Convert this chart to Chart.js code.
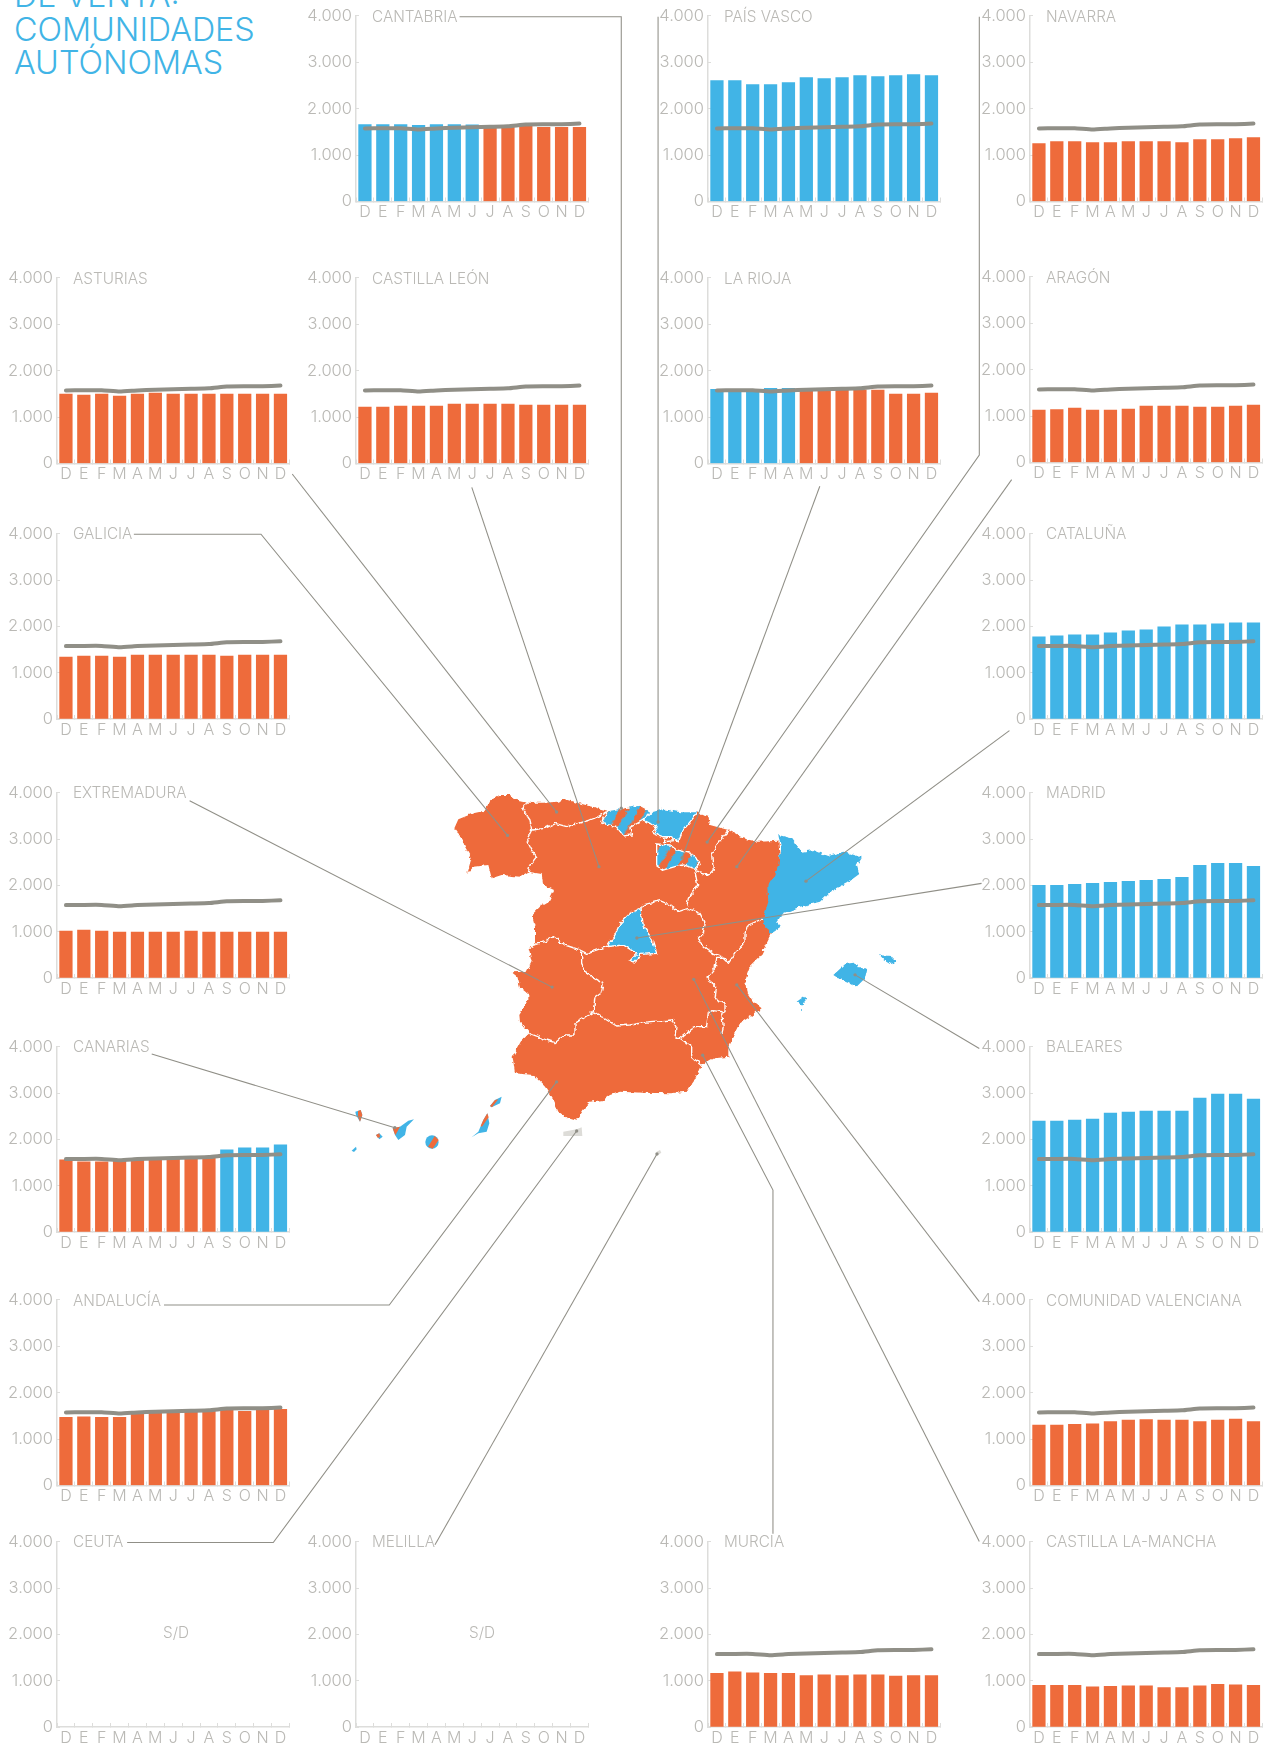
<!DOCTYPE html>
<html lang="es">
<head>
<meta charset="UTF-8">
<title>Comunidades autónomas</title>
<script src="https://cdn.jsdelivr.net/npm/chart.js"></script>
<style>
    body { margin: 0; background: #fff; width: 1276px; height: 1749px; position: relative; overflow: hidden; font-family: Inter, sans-serif; font-weight: 300; }
    canvas { position: absolute; }
    .titulo { position: absolute; left: 14px; top: -21px; font-size: 32.3px; line-height: 33.6px; color: #41b4e6; }
    .nombre { position: absolute; font-size: 15.3px; color: #bab9b5; white-space: nowrap; line-height: 18px; }
    #mapa { position: absolute; left: 0; top: 0; pointer-events: none; }
</style>
</head>
<body>

<div class="titulo">DE VENTA:<br>COMUNIDADES<br>AUTÓNOMAS</div>

<script>
const meses = ['D','E','F','M','A','M','J','J','A','S','O','N','D'];
const yTicks = [0, 1000, 2000, 3000, 4000];

// media nacional, the grey line repeated in every panel
const media = [1575, 1580, 1580, 1550, 1575, 1590, 1600, 1610, 1620, 1660, 1665, 1665, 1680];

const cantabria = [1660, 1660, 1660, 1640, 1660, 1660, 1650, 1600, 1600, 1640, 1600, 1600, 1600];
const paisVasco = [2607, 2607, 2520, 2520, 2564, 2671, 2650, 2671, 2714, 2693, 2714, 2736, 2714];
const navarra = [1250, 1293, 1293, 1271, 1271, 1293, 1293, 1293, 1271, 1336, 1336, 1357, 1379];
const asturias = [1494, 1473, 1494, 1451, 1494, 1516, 1494, 1494, 1494, 1494, 1494, 1494, 1494];
const castillaLeon = [1214, 1214, 1236, 1236, 1236, 1279, 1279, 1279, 1279, 1257, 1257, 1257, 1257];
const laRioja = [1600, 1600, 1600, 1620, 1620, 1570, 1580, 1590, 1590, 1580, 1494, 1494, 1516];
const aragon = [1128, 1142, 1171, 1128, 1128, 1149, 1214, 1214, 1214, 1193, 1193, 1214, 1236];
const galicia = [1336, 1358, 1358, 1336, 1379, 1379, 1379, 1379, 1379, 1358, 1379, 1379, 1379];
const cataluna = [1774, 1796, 1818, 1818, 1861, 1904, 1925, 1990, 2033, 2033, 2055, 2076, 2076];
const extremadura = [1013, 1034, 1013, 991, 991, 991, 991, 1013, 991, 991, 991, 991, 991];
const madrid = [2004, 2004, 2026, 2047, 2069, 2090, 2112, 2134, 2177, 2435, 2478, 2478, 2414];
const canarias = [1561, 1518, 1518, 1530, 1550, 1565, 1580, 1590, 1600, 1777, 1820, 1820, 1885];
const baleares = [2396, 2396, 2417, 2439, 2568, 2590, 2612, 2612, 2612, 2892, 2978, 2978, 2870];
const andalucia = [1470, 1480, 1470, 1470, 1540, 1560, 1580, 1590, 1600, 1640, 1600, 1640, 1640];
const comValenciana = [1300, 1300, 1320, 1330, 1380, 1410, 1420, 1410, 1410, 1380, 1410, 1430, 1380];
const murcia = [1160, 1190, 1170, 1160, 1160, 1110, 1130, 1110, 1130, 1130, 1100, 1110, 1110];
const castillaMancha = [900, 900, 900, 870, 880, 890, 890, 850, 850, 890, 920, 910, 900];

const AZUL = '#41b4e6', NARANJA = '#ee6b3b', GRIS = '#908f87', TEXTO = '#bab9b5', EJE = '#dddddb';

// columns and rows of the grid of small charts
const c1 = 57, c2 = 356, c3 = 708, c4 = 1030;
const panels = [
    ['CANTABRIA', cantabria, c2, 15.5], ['PAÍS VASCO', paisVasco, c3, 15.5], ['NAVARRA', navarra, c4, 15.5],
    ['ASTURIAS', asturias, c1, 277.5], ['CASTILLA LEÓN', castillaLeon, c2, 277.5], ['LA RIOJA', laRioja, c3, 277.5], ['ARAGÓN', aragon, c4, 276.5],
    ['GALICIA', galicia, c1, 533], ['CATALUÑA', cataluna, c4, 533],
    ['EXTREMADURA', extremadura, c1, 792], ['MADRID', madrid, c4, 792],
    ['CANARIAS', canarias, c1, 1046], ['BALEARES', baleares, c4, 1046],
    ['ANDALUCÍA', andalucia, c1, 1299.5], ['COMUNIDAD VALENCIANA', comValenciana, c4, 1299.5],
    ['CEUTA', null, c1, 1541, 120], ['MELILLA', null, c2, 1541, 127], ['MURCIA', murcia, c3, 1541], ['CASTILLA LA-MANCHA', castillaMancha, c4, 1541]
];

function texto(t, x, y) {
    const d = document.createElement('div');
    d.className = 'nombre';
    d.textContent = t;
    d.style.left = x + 'px';
    d.style.top = y + 'px';
    document.body.appendChild(d);
}

panels.forEach(([nombre, valores, left, top, sd]) => {
    const frac = top - Math.floor(top);
    const c = document.createElement('canvas');
    c.width = 290;
    c.height = 234;
    c.style.left = (left - 50) + 'px';
    c.style.top = (Math.floor(top) - 16) + 'px';
    document.body.appendChild(c);

    const datasets = [];
    if (valores) {
        datasets.push({
            type: 'line', data: media, borderColor: GRIS, borderWidth: 4, pointRadius: 0,
            borderCapStyle: 'round', tension: 0.15, order: 0
        });
        datasets.push({
            type: 'bar', data: valores, barThickness: 12.6, order: 1,
            backgroundColor: valores.map((v, i) => v > media[i] ? AZUL : NARANJA)
        });
    }

    new Chart(c, {
        type: 'bar',
        data: { labels: meses, datasets },
        options: {
            responsive: false,
            animation: false,
            layout: { padding: { top: 16 + frac, right: 7.6, left: 0, bottom: 0 } },
            plugins: { legend: { display: false }, tooltip: { enabled: false } },
            scales: {
                x: {
                    afterFit: s => { s.height = 32 - frac; },
                    border: { color: EJE, width: 1.5 },
                    grid: { drawOnChartArea: false, tickLength: -4, color: EJE },
                    ticks: { color: TEXTO, autoSkip: false, maxRotation: 0, padding: 5.5, font: { family: 'Inter', size: 16, weight: 300 } }
                },
                y: {
                    min: 0, max: 4000,
                    afterFit: s => { s.width = 50; },
                    afterBuildTicks: s => { s.ticks = yTicks.map(value => ({ value })); },
                    border: { color: EJE, width: 1.5 },
                    grid: { drawOnChartArea: false, tickLength: -3, color: EJE },
                    ticks: {
                        color: TEXTO, padding: 7, font: { family: 'Inter', size: 16.5, weight: 300 },
                        callback: v => v ? (v / 1000) + '.000' : '0'
                    }
                }
            }
        }
    });

    texto(nombre, left + 16, top - 8);
    if (sd) texto('S/D', left + sd - 14, top + 83);
});
</script>

<svg id="mapa" width="1276" height="1749" viewBox="0 0 1276 1749">
    <defs>
        <pattern id="rayasCantabria" width="48" height="48" patternUnits="userSpaceOnUse" patternTransform="rotate(30)">
            <rect width="48" height="48" fill="#41b4e6"/>
            <rect x="25" width="21" height="48" fill="#ee6b3b"/>
        </pattern>
        <pattern id="rayasRioja" width="48" height="48" patternUnits="userSpaceOnUse" patternTransform="rotate(30)">
            <rect width="48" height="48" fill="#41b4e6"/>
            <rect x="20" width="20" height="48" fill="#ee6b3b"/>
        </pattern>
        <filter id="costa" filterUnits="userSpaceOnUse" x="0" y="0" width="1400" height="1200">
            <feTurbulence type="fractalNoise" baseFrequency=".07" numOctaves="2" seed="4" result="n"/>
            <feDisplacementMap in="SourceGraphic" in2="n" scale="14" xChannelSelector="R" yChannelSelector="G"/>
        </filter>
    </defs>

    <!-- mapa: coordinates of a 3x crop starting at 430,770 -->
    <g transform="translate(430 770) scale(.33333)">
      <g filter="url(#costa)">
        <polygon fill="#ee6b3b" points="73,175 85,148 130,130 165,122 178,95 205,75 240,75 262,92 290,98 340,98 385,95 405,88 440,98 480,108 533,122 628,105 640,118 665,125 700,115 750,125 805,125 815,135 835,140 840,165 895,180 940,205 985,215 1045,212 1052,300 1025,490 1015,510 990,560 960,590 945,630 950,665 970,695 995,715 960,740 930,760 910,800 895,830 895,860 850,865 815,885 795,930 770,965 720,970 640,968 570,965 540,975 520,990 480,995 460,1020 440,1052 415,1045 385,1025 370,990 345,950 310,915 255,910 248,860 272,815 298,790 270,755 268,735 295,690 295,670 270,650 262,620 245,607 290,605 305,575 296,535 315,525 315,470 305,435 330,410 355,395 372,360 340,345 335,312 295,305 270,320 215,315 185,325 175,285 130,290 112,312 125,265 105,230 95,205"/>
        <polygon fill="#41b4e6" points="1045,195 1085,205 1115,245 1150,240 1195,258 1240,245 1295,262 1280,285 1288,312 1250,340 1200,365 1170,395 1110,410 1060,430 1040,455 1055,470 1025,490 1003,470 1000,445 1015,395 1012,350 1030,320 1045,285 1052,230"/>
        <polygon fill="#41b4e6" stroke="#fff" stroke-width="4" points="633,415 640,470 665,505 680,550 632,553 610,576 600,572 620,551 580,525 530,530 555,495 570,460 600,430"/>
        <polygon fill="url(#rayasCantabria)" stroke="#fff" stroke-width="4" points="533,122 628,105 665,125 640,150 600,172 605,195 580,198 560,170 515,160"/>
        <polygon fill="#41b4e6" stroke="#fff" stroke-width="4" points="665,125 700,115 750,125 805,125 760,180 745,215 720,200 695,200 670,190 680,175 660,160 640,150"/>
        <polygon fill="#ee6b3b" stroke="#fff" stroke-width="4" points="700,205 725,200 730,212 705,215"/>
        <polygon fill="url(#rayasRioja)" stroke="#fff" stroke-width="4" points="680,222 720,225 740,240 780,250 812,280 795,295 760,285 735,290 700,300 680,285"/>
        <g fill="none" stroke="#fff" stroke-width="4" stroke-linejoin="round">
            <polyline points="290,98 278,118 300,150 305,180 290,210 305,240 320,260 300,285 295,305"/>
            <polyline points="305,180 345,175 375,160 410,170 445,160 480,150 505,140 530,125"/>
            <polyline points="812,280 795,305 835,315 850,300 845,250 860,225 895,180"/>
            <polyline points="795,305 803,345 775,385 770,410"/>
            <polyline points="633,415 640,405 690,392 720,405 745,425 775,415 810,430 825,460 820,490 803,510 830,535 850,550 875,560 890,575"/>
            <polyline points="1000,445 955,465 945,490 945,515 915,550 895,580 890,565 860,565 855,595 830,625 860,650 855,685 885,700 885,725 875,730 880,770 875,790"/>
            <polyline points="875,725 845,722 835,730 830,770 795,770 750,805 785,830 785,860 815,885"/>
            <polyline points="490,725 530,750 560,768 600,765 660,755 725,750 738,770 735,805 750,805"/>
            <polyline points="298,790 350,810 375,818 405,795 435,795 435,760 490,725"/>
            <polyline points="455,545 455,580 470,610 520,640 515,665 495,680 490,725"/>
            <polyline points="310,525 345,515 370,500 405,525 450,540 470,550 530,530"/>
        </g>
        <g fill="#41b4e6">
            <polygon points="1210,615 1250,578 1275,575 1285,595 1312,595 1305,625 1280,650 1250,635 1225,625"/>
            <polygon points="1347,556 1385,558 1398,575 1380,582 1360,570"/>
            <polygon points="1100,695 1125,677 1132,685 1115,705"/>
            <circle cx="1116" cy="723" r="3"/>
        </g>
      </g>
        <polygon fill="#dddcd8" points="400,1085 440,1078 455,1072 457,1098 400,1098"/>
        <polygon fill="#dddcd8" points="680,1145 690,1140 694,1148 684,1155"/>
    </g>

    <!-- canarias: 3x crop starting at 330,1080 -->
    <g transform="translate(330 1080) scale(.33333)">
        <polygon fill="#41b4e6" points="76,95 92,90 97,105 90,125 78,105"/>
        <polygon fill="#ee6b3b" points="84,93 92,90 97,105 90,125 84,110"/>
        <polygon fill="#41b4e6" points="65,212 78,200 80,208 72,216"/>
        <polygon fill="#41b4e6" points="138,165 148,160 158,170 148,178"/>
        <polygon fill="#ee6b3b" points="138,165 148,160 150,172 143,173"/>
        <polygon fill="#41b4e6" points="188,145 210,140 235,122 252,118 230,140 225,165 205,180 195,165"/>
        <polygon fill="#ee6b3b" points="188,145 210,140 196,166"/>
        <circle cx="306" cy="186" r="20" fill="#41b4e6"/>
        <polygon fill="#ee6b3b" points="314,168 326,180 308,206 294,200"/>
        <polygon fill="#41b4e6" points="425,172 445,155 460,120 472,100 478,130 470,155 445,160"/>
        <polygon fill="#ee6b3b" points="460,120 472,100 476,112 456,140 452,138"/>
        <polygon fill="#41b4e6" points="480,78 495,60 515,50 510,70 485,82"/>
        <polygon fill="#ee6b3b" points="480,78 495,60 505,58 486,82"/>
    </g>

    <!-- lineas guia -->
    <g transform="scale(1.11538)" fill="none" stroke="#908f87" stroke-width=".95">
        <polyline points="412,15 557,15 557,724.6"/>
        <polyline points="590,15 590,737"/>
        <polyline points="878,15 878,408 634,755"/>
        <polyline points="735,436 611.6,769"/>
        <polyline points="907,430 660.6,777"/>
        <polyline points="905,655 722.6,790"/>
        <polyline points="880,792 571,841"/>
        <polyline points="878,940 766.6,874"/>
        <polyline points="878,1167 660.6,883"/>
        <polyline points="878,1382 622,878"/>
        <polyline points="693,1375 693,1067 630,946"/>
        <polyline points="390,1385 589,1034.6"/>
        <polyline points="114,1383 245,1383 517,1014"/>
        <polyline points="147,1170 349,1170 499,970"/>
        <polyline points="136,945 354,1011"/>
        <polyline points="170,718 495,885"/>
        <polyline points="120,479 234,479 455,749"/>
        <polyline points="262,425 499,728"/>
        <polyline points="423,437 537,777"/>
    </g>
    <g transform="scale(1.11538)" fill="#908f87">
        <circle cx="557" cy="724.6" r="1.5"/><circle cx="590" cy="737" r="1.5"/><circle cx="634" cy="755" r="1.5"/>
        <circle cx="611.6" cy="769" r="1.5"/><circle cx="660.6" cy="777" r="1.5"/><circle cx="722.6" cy="790" r="1.5"/>
        <circle cx="571" cy="841" r="1.5"/><circle cx="766.6" cy="874" r="1.5"/><circle cx="660.6" cy="883" r="1.5"/>
        <circle cx="622" cy="878" r="1.5"/><circle cx="630" cy="946" r="1.5"/><circle cx="589" cy="1034.6" r="1.5"/>
        <circle cx="517" cy="1014" r="1.5"/><circle cx="499" cy="970" r="1.5"/><circle cx="354" cy="1011" r="1.5"/>
        <circle cx="495" cy="885" r="1.5"/><circle cx="455" cy="749" r="1.5"/><circle cx="499" cy="728" r="1.5"/><circle cx="537" cy="777" r="1.5"/>
    </g>
</svg>

</body>
</html>
